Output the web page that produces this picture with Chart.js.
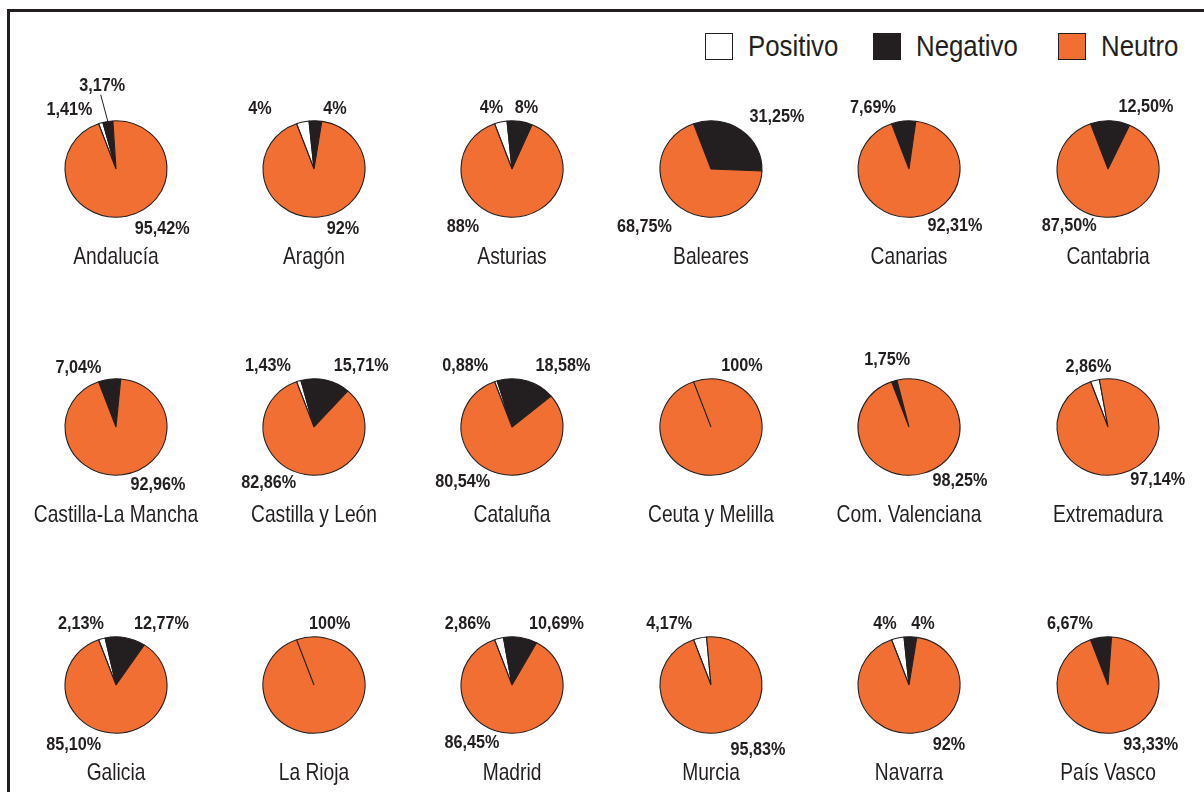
<!DOCTYPE html>
<html lang="es">
<head>
<meta charset="utf-8">
<title>Valoración por comunidad autónoma</title>
<script src="https://cdn.jsdelivr.net/npm/chart.js@4.4.1/dist/chart.umd.min.js"></script>
<style>
  html, body { margin: 0; padding: 0; background: #fff; overflow: hidden; }
  body {
    width: 1204px; height: 792px; position: relative;
    font-family: 'Liberation Sans', Arial, sans-serif;
    color: #231f20;
  }
  #frame {
    position: absolute; left: 7px; top: 9px;
    width: 1400px; height: 1000px;
    border: 3px solid #231f20;
  }
  .item {
    position: absolute; top: 33px; height: 27px;
    display: flex; align-items: center;
    font-size: 29px; white-space: nowrap;
  }
  .box { width: 26px; height: 25px; border: 1px solid #231f20; margin-right: 15px; flex: none; }
  .txt { display: inline-block; transform: scaleX(0.89); transform-origin: left center; }
  canvas { position: absolute; }
</style>
</head>
<body>
<div id="frame"></div>
<div id="legend"></div>
<div id="charts"></div>

<script>
// data
const regions = ['Andalucía', 'Aragón', 'Asturias', 'Baleares', 'Canarias', 'Cantabria',
  'Castilla-La Mancha', 'Castilla y León', 'Cataluña', 'Ceuta y Melilla', 'Com. Valenciana', 'Extremadura',
  'Galicia', 'La Rioja', 'Madrid', 'Murcia', 'Navarra', 'País Vasco'];
const positivo = [1.41, 4, 4, 0, 0, 0, 0, 1.43, 0.88, 0, 0, 2.86, 2.13, 0, 2.86, 4.17, 4, 0];
const negativo = [3.17, 4, 8, 31.25, 7.69, 12.50, 7.04, 15.71, 18.58, 0, 1.75, 0, 12.77, 0, 10.69, 0, 4, 6.67];
const neutro = [95.42, 92, 88, 68.75, 92.31, 87.50, 92.96, 82.86, 80.54, 100, 98.25, 97.14, 85.10, 100, 86.45, 95.83, 92, 93.33];
const seriesNames = ['Positivo', 'Negativo', 'Neutro'];
const seriesColors = ['#ffffff', '#231f20', '#f16f33'];

// where each percentage label sits, relative to the pie centre (text centre, baseline)
const labelOffsets = [
  [[-46.5, -54], [-13.8, -78.3], [46.3, 65.3]],
  [[-54, -55], [21, -55], [29, 65]],
  [[-20.5, -55.7], [14.5, -55.7], [-49, 62.7]],
  [null, [66, -47], [-66.6, 62.7]],
  [null, [-36, -55.7], [46, 61.7]],
  [null, [38, -56.7], [-38.7, 61.7]],
  [null, [-37.5, -54.4], [42, 63.3]],
  [[-46, -55.7], [47.3, -55.7], [-45.3, 61]],
  [[-46.7, -56], [51, -56], [-49.4, 60]],
  [null, null, [31, -56]],
  [null, [-21.8, -62], [51, 59]],
  [[-19.5, -55.4], null, [49.7, 58]],
  [[-35, -56], [45.5, -56], [-42.3, 65]],
  [null, null, [15.7, -56]],
  [[-44.2, -55.7], [44.5, -55.7], [-40, 63]],
  [[-41.7, -55.7], null, [47, 69.6]],
  [[-24, -56], [14, -56], [40, 64.7]],
  [null, [-38, -56], [42.7, 64.7]]
];
// labels joined to their slice by a leader line: [region, series]
const leaderLines = [[0, 1]];

const legendLeft = [705, 873, 1058];

const textColor = '#231f20';
const family = '"Liberation Sans", Arial, sans-serif';
const squash = 0.945;   // pies are slightly wider than tall in the original

const fmt = v => (Number.isInteger(v) ? String(v) : v.toFixed(2).replace('.', ',')) + '%';

// legend
const legend = document.getElementById('legend');
seriesNames.forEach((name, i) => {
  const item = document.createElement('div');
  item.className = 'item';
  item.style.left = legendLeft[i] + 'px';
  item.innerHTML = '<span class="box" style="background:' + seriesColors[i] + '"></span><span class="txt">' + name + '</span>';
  legend.appendChild(item);
});

// condensed-looking text: plain sans squeezed horizontally
function narrowText(ctx, text, x, y, sx) {
  ctx.save();
  ctx.translate(x, y);
  ctx.scale(sx, 1);
  ctx.fillText(text, 0, 0);
  ctx.restore();
}

const pieShape = {
  id: 'pieShape',
  beforeDatasetsDraw(chart) {
    const arc = chart.getDatasetMeta(0).data[0];
    const ctx = chart.ctx;
    ctx.save();
    ctx.translate(arc.x, arc.y);
    ctx.scale(1, squash);
    ctx.translate(-arc.x, -arc.y);
  },
  afterDatasetsDraw(chart) {
    chart.ctx.restore();
  }
};

const pctLabels = {
  id: 'pctLabels',
  afterDraw(chart, args, opts) {
    const ctx = chart.ctx;
    const values = chart.data.datasets[0].data;
    const meta = chart.getDatasetMeta(0);
    ctx.save();
    ctx.fillStyle = textColor;
    ctx.strokeStyle = textColor;
    ctx.textAlign = 'center';
    ctx.textBaseline = 'alphabetic';
    ctx.font = 'bold 18px ' + family;
    meta.data.forEach((arc, i) => {
      const off = opts.offsets[i];
      if (!values[i] || !off) return;
      const x = arc.x + off[0];
      const y = arc.y + off[1];
      narrowText(ctx, fmt(values[i]), x, y, 0.9);
      if (opts.leaders.includes(i)) {
        const mid = (arc.startAngle + arc.endAngle) / 2;
        ctx.beginPath();
        ctx.moveTo(x - 1.5, y + 4);
        ctx.lineTo(arc.x + Math.cos(mid) * arc.outerRadius, arc.y + Math.sin(mid) * arc.outerRadius * squash);
        ctx.lineWidth = 1;
        ctx.stroke();
      }
    });
    // region name under the pie
    const c = meta.data[0];
    ctx.font = '24px ' + family;
    narrowText(ctx, opts.name, c.x, c.y + 94.5, 0.8);
    ctx.restore();
  }
};

const holder = document.getElementById('charts');
regions.forEach((region, i) => {
  const col = i % 6, row = Math.floor(i / 6);
  const cx = 115.5 + col * 198.4, cy = 169 + row * 258;
  const canvas = document.createElement('canvas');
  canvas.width = 198;
  canvas.height = 210;
  canvas.style.left = Math.round(cx - 99) + 'px';
  canvas.style.top = Math.round(cy - 105) + 'px';
  canvas.setAttribute('aria-label', region);
  holder.appendChild(canvas);

  new Chart(canvas, {
    type: 'pie',
    data: {
      labels: seriesNames,
      datasets: [{
        data: [positivo[i], negativo[i], neutro[i]],
        backgroundColor: seriesColors,
        borderColor: textColor,
        borderWidth: 1.1,
        rotation: -20,
        radius: 51
      }]
    },
    options: {
      responsive: false,
      animation: false,
      events: [],
      rotation: -20,
      layout: { padding: 0 },
      plugins: {
        legend: { display: false },
        tooltip: { enabled: false },
        title: { display: false },
        pctLabels: {
          name: region,
          offsets: labelOffsets[i],
          leaders: leaderLines.filter(l => l[0] === i).map(l => l[1])
        }
      }
    },
    plugins: [pieShape, pctLabels]
  });
});
</script>
</body>
</html>
